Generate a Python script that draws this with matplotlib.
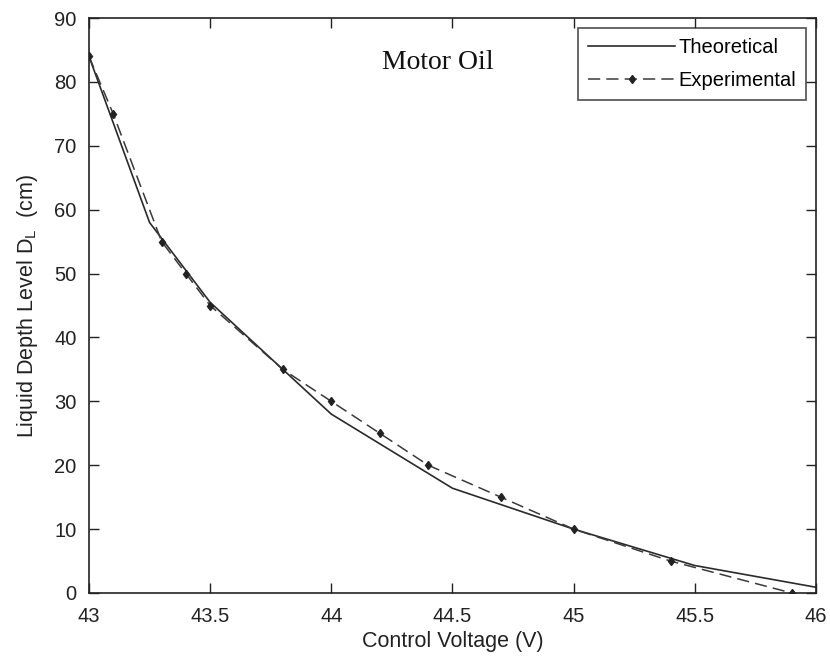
import numpy as np
import matplotlib
matplotlib.use("Agg")
import matplotlib.pyplot as plt

# ----------- data ---------
theo_v = [43.0, 43.25, 43.5, 44.0, 44.5, 45.0, 45.5, 46.0]
theo_d = [84.0, 58.0, 45.5, 28.0, 16.4, 10.0, 4.3, 0.9]

exp_v = [43.0, 43.1, 43.3, 43.4, 43.5, 43.8, 44.0, 44.2, 44.4, 44.7, 45.0, 45.4, 45.9]
exp_d = [84, 75, 55, 50, 45, 35, 30, 25, 20, 15, 10, 5, 0]

xticks = [43, 43.5, 44, 44.5, 45, 45.5, 46]
yticks = np.arange(0, 91, 10)

plt.rcParams['font.family'] = ['Liberation Sans', 'DejaVu Sans']
plt.rcParams['mathtext.default'] = 'regular'

fig = plt.figure(figsize=(8.3, 6.58), dpi=100)
ax = fig.add_axes([0.1072, 0.0988, 0.8758, 0.8738])

ax.plot(theo_v, theo_d, '-', color='#2a2a2a', lw=1.2, label='Theoretical')
ax.plot(exp_v, exp_d, '--', color='#3a3a3a', lw=1.1, dashes=(8, 4),
        marker='d', ms=4.5, mfc='#222222', mec='#222222', label='Experimental')

ax.set_xlim(43, 46)
ax.set_ylim(0, 90)
ax.set_xticks(xticks)
ax.set_xticklabels(['43', '43.5', '44', '44.5', '45', '45.5', '46'])
ax.set_yticks(yticks)
ax.tick_params(direction='in', top=True, right=True, length=7, width=1,
               labelsize=14.5, colors='#222222')
ax.tick_params(axis='x', pad=10)
ax.tick_params(axis='y', pad=9)
for s in ax.spines.values():
    s.set_color('#222222')
    s.set_linewidth(1.2)

ax.set_xlabel('Control Voltage (V)', fontsize=15.5, color='#222222', labelpad=4)
ax.set_ylabel('Liquid Depth Level $D_{L}$  (cm)', fontsize=15.5, color='#222222', labelpad=10)

ax.text(44.44, 83.1, 'Motor Oil', fontsize=20, family=['Liberation Serif', 'DejaVu Serif'],
        ha='center', va='center', color='#111111')

leg = ax.legend(loc='upper right', fontsize=14.5, frameon=True, fancybox=False,
                edgecolor='#222222', handlelength=4.3, handletextpad=0.15,
                borderpad=0.5, labelspacing=0.7, borderaxespad=0.5)
leg.get_frame().set_linewidth(1.2)

plt.savefig('out.png', dpi=100)
